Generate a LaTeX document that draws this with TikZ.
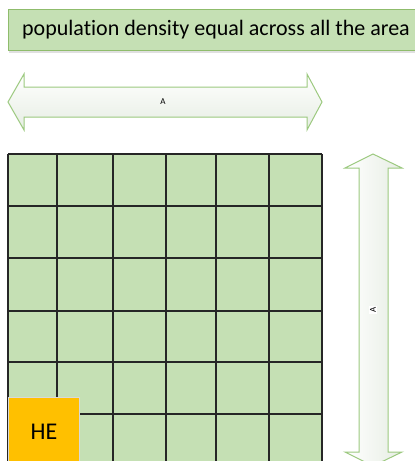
\documentclass[tikz,border=0pt]{standalone}
\usepackage{fontspec}
\setmainfont[Ligatures=NoCommon]{Carlito}
\usepackage{tikz}
\usetikzlibrary{positioning}
\definecolor{cellgreen}{HTML}{C5E0B4}
\definecolor{boxedge}{HTML}{8FBC6C}
\definecolor{arrowedge}{HTML}{9CC97F}
\definecolor{hefill}{HTML}{FFC000}
\definecolor{arrowshade}{HTML}{E6EDE3}

\begin{document}
\begin{tikzpicture}[
    x=1pt, y=-1pt,
    gridline/.style={draw=black!85, line width=1.3pt},
    arrowbody/.style={draw=arrowedge, line width=1pt},
    arrowlabel/.style={font=\fontsize{9}{9}\selectfont, inner sep=1pt},
    >=stealth
]
    \useasboundingbox (0,0) rectangle (415,461);
    \clip (0,0) rectangle (415,461);

    % Title box
    \fill[black!12] (9,12) rectangle (430,53);
    \draw[fill=cellgreen, draw=boxedge, line width=1pt] (8,9) rectangle (430,50);
    \node[font=\fontsize{22}{22}\selectfont, anchor=west, inner sep=0pt] (title) at (22,30) {population density equal across all the area};

    % Horizontal double arrow
    \path[arrowbody, top color=white, bottom color=arrowshade] (8,102) -- (24,74) -- (24,87) -- (307,87) -- (307,74)
        -- (322,102) -- (307,130) -- (307,117) -- (24,117) -- (24,130) -- cycle;
    \node[arrowlabel] (hlabel) at (163,102) {A};

    % Grid of cells
    \fill[cellgreen] (8,154) rectangle (322,470);
    \foreach \gx in {8,57,113,166,216,269,322}
        \draw[gridline] (\gx,154) -- (\gx,470);
    \foreach \gy in {154,206,258,311,362,414,466}
        \draw[gridline] (8,\gy) -- (322,\gy);

    % HE box
    \fill[hefill] (8,397) rectangle (79,470);
    \draw[black!15, line width=0.8pt] (8,470) -- (8,397) -- (79,397) -- (79,470);
    \node[font=\fontsize{24}{24}\selectfont] (he) at (44,432) {HE};

    % Vertical double arrow
    \path[arrowbody, left color=white, right color=arrowshade] (373,154) -- (402,168) -- (388,168) -- (388,452) -- (402,452)
        -- (373,466) -- (345,452) -- (359,452) -- (359,168) -- (345,168) -- cycle;
    \node[arrowlabel, fill=white, rotate=90] (vlabel) at (373,310) {A};
\end{tikzpicture}
\end{document}
